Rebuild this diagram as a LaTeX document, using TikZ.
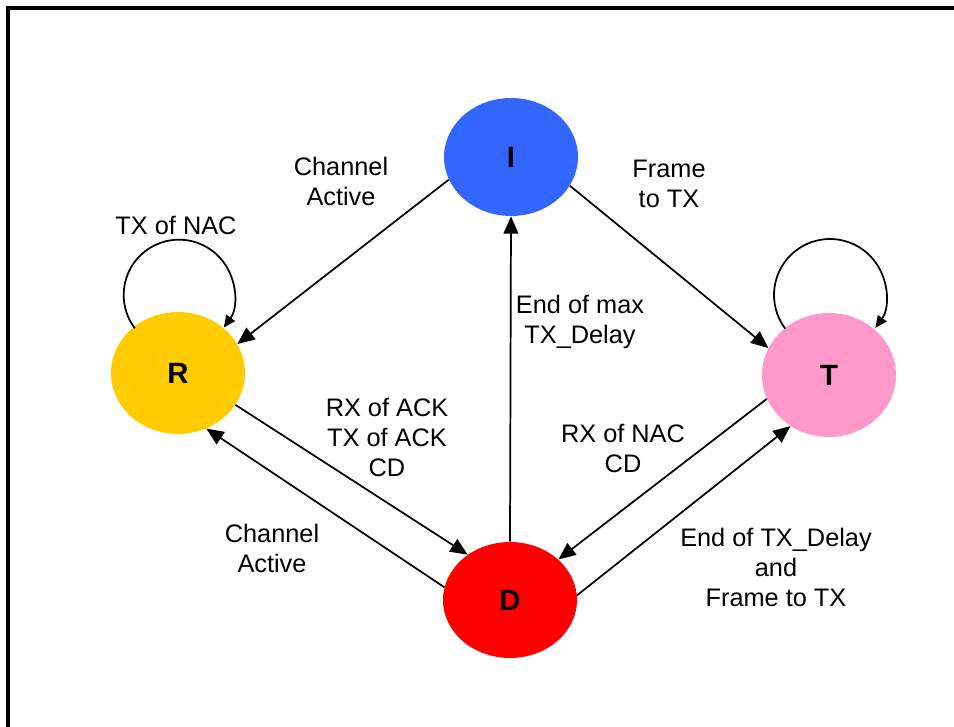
\documentclass[tikz,border=0pt]{standalone}
\usepackage{fontspec}
\setmainfont{Liberation Sans}
\usetikzlibrary{shapes.geometric,arrows.meta}
\definecolor{cI}{HTML}{3366FF}
\definecolor{cR}{HTML}{FFCC00}
\definecolor{cT}{HTML}{FF99CC}
\definecolor{cD}{HTML}{FF0000}
\tikzset{
  state/.style={ellipse, draw=none, inner sep=0pt, minimum width=100.5pt, minimum height=88.5pt,
    font=\fontsize{22}{26}\selectfont\bfseries},
  lbl/.style={align=center, inner sep=0pt, font=\fontsize{19}{22.5}\selectfont},
  edge/.style={line width=1.3pt, -{Triangle[length=13pt,width=11pt]}},
  loopedge/.style={line width=1.3pt, -{Triangle[length=9pt,width=8pt]}},
  frame/.style={line width=2.3pt}
}
\begin{document}
\begin{tikzpicture}[x=0.75pt,y=-0.75pt]
\useasboundingbox (0,0) rectangle (954,727);
\coordinate (fa) at (8,740);
\coordinate (fb) at (8,8);
\coordinate (fc) at (960,8);
\draw[frame] (fa) -- (fb) -- (fc);

\node[state, fill=cI] (I) at (511,157) {I};
\node[state, fill=cR, minimum height=91.5pt] (R) at (178,373) {R};
\node[state, fill=cT, minimum height=93pt] (T) at (829,375) {T};
\node[state, fill=cD, minimum height=87pt] (D) at (510,600) {D};

\draw[edge] (I.200) -- (R.26);
\draw[edge] (I.-26) -- (T.156);
\draw[edge] (D.90) -- (I.270);
\draw[edge] (R.-29) -- (D.133);
\draw[edge] (D.169) -- (R.-63);
\draw[edge] (T.201) -- (D.40);
\draw[edge] (D.4) -- (T.233);

\draw[loopedge] ([shift={(1,-78)}]R.center) ++(217:41.5pt) arc[start angle=217, end angle=-36, radius=41.5pt];
\draw[loopedge] ([shift={(1,-80)}]T.center) ++(217:42pt) arc[start angle=217, end angle=-36, radius=42pt];

\node[lbl] (l1) at (341,181) {Channel\\Active};
\node[lbl] (l2) at (669,184) {Frame\\to TX};
\node[lbl] (l3) at (176,225) {TX of NAC};
\node[lbl] (l4) at (580,322) {End of max\\TX\_Delay};
\node[lbl] (l5) at (387,437) {RX of ACK\\TX of ACK\\CD};
\node[lbl] (l6) at (272,548) {Channel\\Active};
\node[lbl] (l7) at (623,448) {RX of NAC\\CD};
\node[lbl] (l8) at (776,567) {End of TX\_Delay\\and\\Frame to TX};
\end{tikzpicture}
\end{document}
